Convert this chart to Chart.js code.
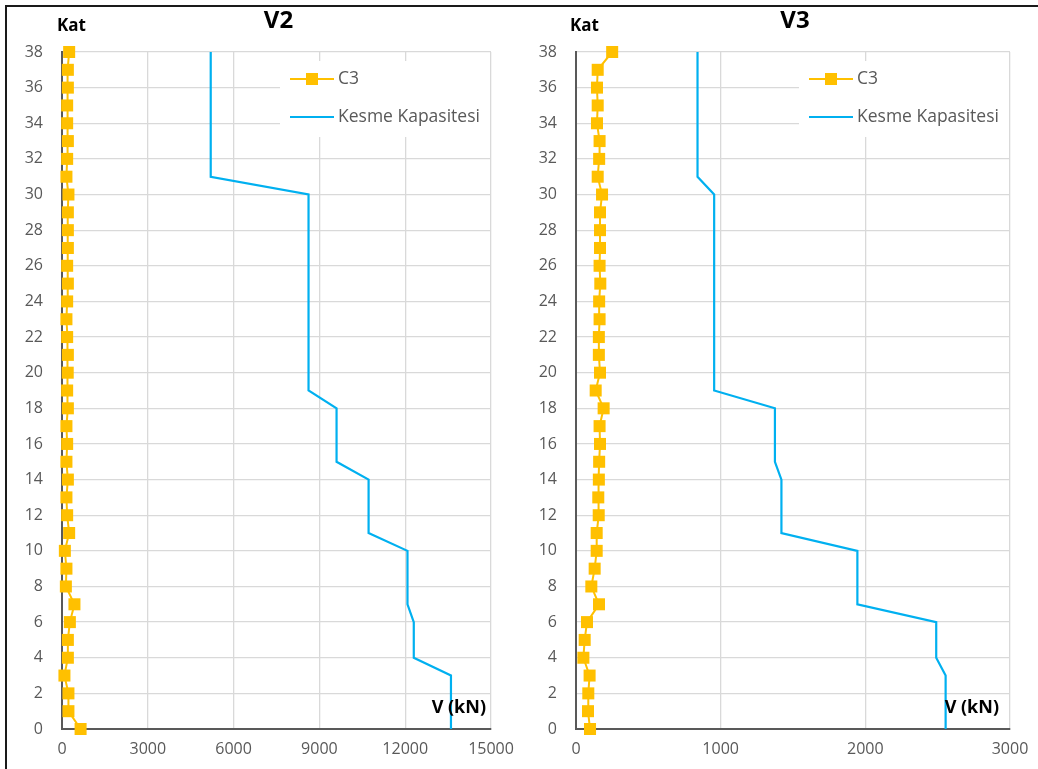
<!DOCTYPE html>
<html><head><meta charset="utf-8">
<script src="https://cdn.jsdelivr.net/npm/chart.js@4.4.0/dist/chart.umd.min.js"></script>
<style>
html,body{margin:0;padding:0;background:#fff;}
body{width:1038px;height:769px;position:relative;overflow:hidden;}
#frame{position:absolute;left:5px;top:5px;width:1100px;height:800px;border-top:2px solid #1a1a1a;border-left:2px solid #1a1a1a;}
.box{position:absolute;top:0;width:519px;height:769px;}
</style></head>
<body>
<div id="frame"></div>
<div class="box" style="left:0"><canvas id="c1"></canvas></div>
<div class="box" style="left:519px"><canvas id="c2"></canvas></div>
<script>
// Floors (Kat)
const floors = [0,1,2,3,4,5,6,7,8,9,10,11,12,13,14,15,16,17,18,19,20,21,22,23,24,25,26,27,28,29,30,31,32,33,34,35,36,37,38];

// V2 panel
const v2C3 = [650,225,225,85,205,205,275,435,135,155,100,250,180,155,205,155,180,155,205,180,200,205,180,155,180,205,180,205,205,205,225,155,180,205,180,180,205,205,250];
const v2Capacity = [13600,13600,13600,13600,12300,12300,12300,12080,12080,12080,12080,10720,10720,10720,10720,9600,9600,9600,9600,8620,8620,8620,8620,8620,8620,8620,8620,8620,8620,8620,8620,5200,5200,5200,5200,5200,5200,5200,5200];
const v2XTicks = [0,3000,6000,9000,12000,15000];

// V3 panel
const v3C3 = [97,83,85,94,51,60,76,159,106,129,143,143,157,154,158,160,166,163,191,136,166,158,158,163,160,168,163,166,166,166,180,150,160,163,145,150,145,150,250];
const v3Capacity = [2555,2555,2555,2555,2490,2490,2490,1945,1945,1945,1945,1420,1420,1420,1420,1375,1375,1375,1375,955,955,955,955,955,955,955,955,955,955,955,955,840,840,840,840,840,840,840,840];
const v3XTicks = [0,1000,2000,3000];

const yTicks = [0,2,4,6,8,10,12,14,16,18,20,22,24,26,28,30,32,34,36,38];
const seriesNames = ['C3','Kesme Kapasitesi'];
const C3_COLOR = '#FFC000';
const CAP_COLOR = '#00B0F0';
const FONT = '"Open Sans", "Liberation Sans", sans-serif';

function decorPlugin(cfg){
  return {
    id: 'decor',
    afterDraw(chart){
      const ctx = chart.ctx, a = chart.chartArea;
      ctx.save();
      ctx.fillStyle = '#000';
      ctx.textBaseline = 'middle';
      ctx.textAlign = 'center';
      ctx.font = 'bold 24px ' + FONT;
      ctx.fillText(cfg.title, (a.left + a.right)/2 + 2, 21);
      ctx.textAlign = 'left';
      ctx.font = 'bold 17px ' + FONT;
      ctx.fillText('Kat', a.left - cfg.katOff, 26);
      ctx.textAlign = 'right';
      ctx.font = 'bold 18px ' + FONT;
      ctx.fillText('V (kN)', a.right - cfg.vOff, 708);
      // legend
      const lx = a.right - 211;
      ctx.fillStyle = '#fff';
      ctx.fillRect(lx, 61, a.right - lx - 1, 76);
      const sx0 = lx + 10, sx1 = lx + 54;
      const rows = [79, 117];
      ctx.strokeStyle = C3_COLOR; ctx.lineWidth = 2;
      ctx.beginPath(); ctx.moveTo(sx0, rows[0]); ctx.lineTo(sx1, rows[0]); ctx.stroke();
      ctx.fillStyle = C3_COLOR;
      ctx.fillRect((sx0+sx1)/2 - 6, rows[0] - 6, 12, 12);
      ctx.strokeStyle = CAP_COLOR; ctx.lineWidth = 2.2;
      ctx.beginPath(); ctx.moveTo(sx0, rows[1]); ctx.lineTo(sx1, rows[1]); ctx.stroke();
      ctx.fillStyle = '#595959';
      ctx.textAlign = 'left';
      ctx.font = '17.5px ' + FONT;
      ctx.fillText(seriesNames[0], sx1 + 4, rows[0]);
      ctx.fillText(seriesNames[1], sx1 + 4, rows[1]);
      ctx.restore();
    }
  };
}

function makeChart(id, c3, cap, xTicks, cfg){
  const xmax = xTicks[xTicks.length-1];
  return new Chart(document.getElementById(id), {
    type: 'scatter',
    data: {
      datasets: [
        { label: seriesNames[0], data: floors.map((f,i)=>({x:c3[i], y:f})), showLine: true,
          borderColor: C3_COLOR, backgroundColor: C3_COLOR, borderWidth: 2,
          pointStyle: 'rect', pointRadius: 8.5, pointBorderWidth: 0, pointHoverRadius: 8.5,
          clip: false, order: 0 },
        { label: seriesNames[1], data: floors.map((f,i)=>({x:cap[i], y:f})), showLine: true,
          borderColor: CAP_COLOR, backgroundColor: CAP_COLOR, borderWidth: 2.2,
          pointRadius: 0, pointHoverRadius: 0, clip: false, order: 1 }
      ]
    },
    options: {
      responsive: true, maintainAspectRatio: false, animation: false,
      events: [],
      layout: { padding: { top: 52, right: 28, left: 0, bottom: 0 } },
      plugins: { legend: { display: false }, tooltip: { enabled: false }, title: { display: false } },
      scales: {
        x: {
          type: 'linear', min: 0, max: xmax,
          afterBuildTicks(s){ s.ticks = xTicks.map(v=>({value:v})); },
          ticks: { color: '#595959', font: { family: FONT, size: 16 }, padding: 11, maxRotation: 0, autoSkip: false,
                   callback: v => String(v) },
          grid: { color: '#d9d9d9', drawTicks: false, lineWidth: 1.3 },
          border: { color: '#595959', width: 2 },
          afterFit(s){ s.height = 40; s.paddingLeft = 0; s.paddingRight = 0; }
        },
        y: {
          type: 'linear', min: 0, max: 38,
          afterBuildTicks(s){ s.ticks = yTicks.map(v=>({value:v})); },
          ticks: { color: '#595959', font: { family: FONT, size: 16 }, padding: 19, autoSkip: false,
                   callback: v => String(v) },
          grid: { color: '#d9d9d9', drawTicks: false, lineWidth: 1.3 },
          border: { color: '#595959', width: 2 },
          afterFit(s){ s.width = cfg.yw; s.paddingTop = 0; s.paddingBottom = 0; }
        }
      }
    },
    plugins: [decorPlugin(cfg)]
  });
}

makeChart('c1', v2C3, v2Capacity, v2XTicks, { title: 'V2', yw: 62, katOff: 5, vOff: 5 });
makeChart('c2', v3C3, v3Capacity, v3XTicks, { title: 'V3', yw: 57, katOff: 6, vOff: 11 });
</script>
</body></html>
